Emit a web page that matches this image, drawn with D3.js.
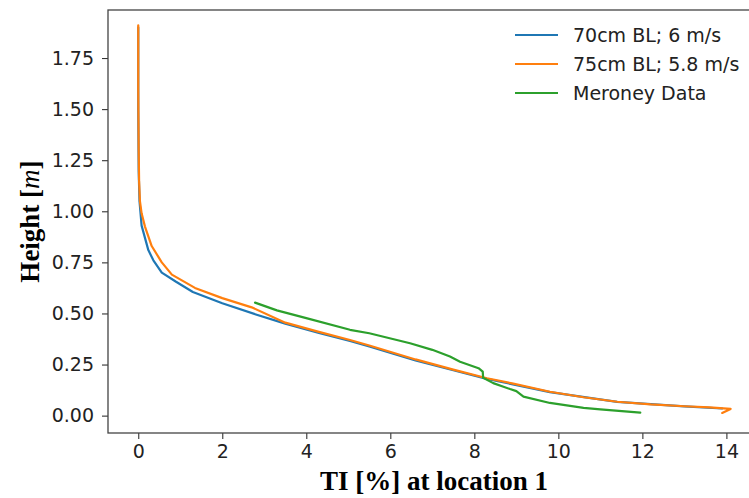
<!DOCTYPE html>
<html>
<head>
<meta charset="utf-8">
<script src="https://cdnjs.cloudflare.com/ajax/libs/d3/7.8.5/d3.min.js"></script>
<style>
  body { margin: 0; background: #fff; }
  #canvas svg { display: block; }
</style>
</head>
<body>
<div id="canvas"></div>
<script>
/*
Turbulence intensity profiles, height vs TI at location 1 */

/*
Series: [TI %, height m] */
var bl70 = [[0.0,1.90],[0.0,1.50],[0.01,1.20],[0.03,1.05],[0.08,0.93],[0.24,0.81],
            [0.36,0.76],[0.56,0.70],[0.9,0.655],[1.3,0.605],[2.0,0.55],[2.8,0.495],
            [3.5,0.45],[4.3,0.405],[5.04,0.365],[5.5,0.338],[6.6,0.27],[7.5,0.222],
            [8.3,0.18],[9.8,0.115],[11.4,0.067],[13.0,0.045],[13.9,0.035]];

var bl75 = [[0.0,1.91],[0.0,1.60],[0.01,1.30],[0.02,1.15],[0.04,1.05],[0.08,0.99],
            [0.16,0.925],[0.32,0.83],[0.56,0.75],[0.8,0.69],[1.35,0.625],[2.0,0.575],
            [2.7,0.53],[3.5,0.455],[4.3,0.41],[5.04,0.37],[5.5,0.343],[6.6,0.275],
            [7.5,0.225],[8.3,0.183],[8.9,0.158],[9.8,0.117],[10.6,0.09],[11.4,0.068],
            [12.2,0.055],[13.0,0.046],[13.6,0.04],[14.1,0.033],[13.9,0.013]];

var meroney = [[2.78,0.553],[3.3,0.515],[4.0,0.477],[5.04,0.42],[5.5,0.403],[6.47,0.354],
               [7.0,0.322],[7.42,0.289],[7.66,0.264],[8.1,0.232],[8.2,0.215],[8.21,0.185],
               [8.45,0.159],[8.85,0.13],[9.0,0.12],[9.17,0.093],[9.8,0.062],[10.6,0.038],
               [11.0,0.031],[11.95,0.015]];

var series_names = ["70cm BL; 6 m/s", "75cm BL; 5.8 m/s", "Meroney Data"];
var series_colors = ["#1f77b4", "#ff7f0e", "#2ca02c"];
var x_ticks = [0, 2, 4, 6, 8, 10, 12, 14];
var y_ticks = [0.00, 0.25, 0.50, 0.75, 1.00, 1.25, 1.50, 1.75];

var W = 749, H = 498;
var box = {left: 108, top: 10, right: 760, bottom: 433};

function draw_chart() {
    var svg = d3.select("#canvas").append("svg")
        .attr("width", W).attr("height", H);

    var x = d3.scaleLinear().domain([-0.72, 14.8]).range([box.left, box.right]);
    var y = d3.scaleLinear().domain([-0.085, 1.985]).range([box.bottom, box.top]);

    // lines first, frame on top
    var line = d3.line().x(function(d) { return x(d[0]); }).y(function(d) { return y(d[1]); });
    [bl70, bl75, meroney].forEach(function(s, i) {
        svg.append("path")
            .attr("d", line(s))
            .attr("fill", "none")
            .attr("stroke", series_colors[i])
            .attr("stroke-width", 2.2)
            .attr("stroke-linejoin", "round")
            .attr("stroke-linecap", "round");
    });

    var xAxis = svg.append("g")
        .attr("transform", "translate(0," + box.bottom + ")")
        .call(d3.axisBottom(x).tickValues(x_ticks).tickFormat(d3.format("d"))
              .tickSizeOuter(0).tickSize(6).tickPadding(6));
    var yAxis = svg.append("g")
        .attr("transform", "translate(" + box.left + ",0)")
        .call(d3.axisLeft(y).tickValues(y_ticks).tickFormat(d3.format(".2f"))
              .tickSizeOuter(0).tickSize(6).tickPadding(8));

    [xAxis, yAxis].forEach(function(g) {
        g.select(".domain").remove();
        g.selectAll("line").attr("stroke", "#333").attr("stroke-width", 1.1);
        g.selectAll("text")
            .attr("fill", "#222")
            .style("font-family", "'DejaVu Sans', sans-serif")
            .style("font-size", "19px");
    });

    // top + left + bottom spines (right one falls outside the window)
    svg.append("rect")
        .attr("x", box.left).attr("y", box.top)
        .attr("width", box.right - box.left).attr("height", box.bottom - box.top)
        .attr("fill", "none").attr("stroke", "#444").attr("stroke-width", 1.3);

    svg.append("text")
        .attr("x", (box.left + box.right) / 2).attr("y", 490)
        .attr("text-anchor", "middle")
        .style("font-family", "'Liberation Serif', 'Times New Roman', serif")
        .style("font-weight", "bold").style("font-size", "27px")
        .text("TI [%] at location 1");

    var ylab = svg.append("text")
        .attr("transform", "translate(39," + ((box.top + box.bottom) / 2) + ") rotate(-90)")
        .attr("text-anchor", "middle")
        .style("font-family", "'Liberation Serif', 'Times New Roman', serif")
        .style("font-weight", "bold").style("font-size", "27px");
    ylab.append("tspan").text("Height [");
    ylab.append("tspan").style("font-style", "italic").style("font-weight", "normal").text("m");
    ylab.append("tspan").text("]");

    /*
    Legend, upper right */
    var leg = svg.append("g");
    series_names.forEach(function(name, i) {
        var yy = 35 + i * 29;
        leg.append("line")
            .attr("x1", 515).attr("x2", 558).attr("y1", yy).attr("y2", yy)
            .attr("stroke", series_colors[i]).attr("stroke-width", 2.2);
        leg.append("text")
            .attr("x", 573).attr("y", yy).attr("dy", "0.35em")
            .attr("fill", "#222")
            .style("font-family", "'DejaVu Sans', sans-serif")
            .style("font-size", "19px")
            .text(name);
    });
}

document.addEventListener('DOMContentLoaded', function() { draw_chart(); });
</script>
</body>
</html>
